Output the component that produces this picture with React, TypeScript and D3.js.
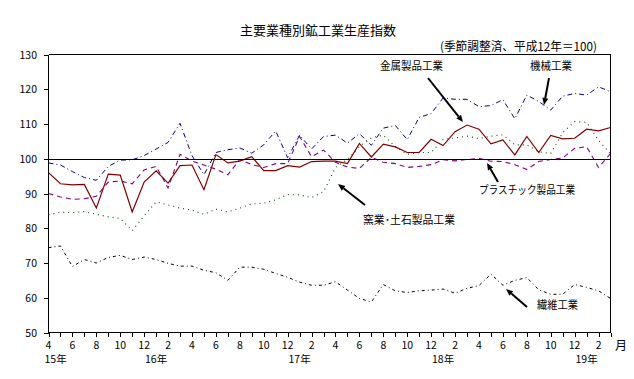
import React from "react";
import * as d3 from "d3";

const monthLabels = [
  "4","5","6","7","8","9","10","11","12","1","2","3",
  "4","5","6","7","8","9","10","11","12","1","2","3",
  "4","5","6","7","8","9","10","11","12","1","2","3",
  "4","5","6","7","8","9","10","11","12","1","2","3",
];
const yearLabels = ["15年", "16年", "17年", "18年", "19年"];
const yearIndex = [0, 9, 21, 33, 45];
const yTicks = [50, 60, 70, 80, 90, 100, 110, 120, 130];

const machinery = [98.8, 98.2, 96.3, 94.6, 93.8, 97.8, 99.6, 99.7, 100.9, 102.8, 104.7, 110.2, 100.9, 95.4, 101.8, 102.6, 103.1, 101.6, 104.0, 108.0, 100.3, 106.8, 102.8, 106.4, 106.8, 104.5, 107.2, 103.9, 108.8, 109.6, 105.5, 111.9, 113.0, 117.5, 117.1, 117.1, 115.0, 115.3, 117.0, 111.5, 118.3, 116.5, 114.0, 118.0, 118.8, 118.3, 120.7, 119.3];
const metal = [96.0, 92.8, 92.5, 92.6, 85.8, 95.6, 95.3, 84.7, 93.3, 96.5, 93.0, 98.0, 98.2, 91.1, 101.2, 98.8, 99.3, 100.6, 96.6, 96.6, 98.0, 97.6, 99.2, 99.3, 99.3, 98.6, 104.4, 100.5, 104.2, 103.4, 101.8, 101.8, 105.6, 103.8, 107.8, 109.7, 108.5, 104.3, 105.4, 101.1, 106.4, 101.8, 106.7, 105.7, 105.9, 108.5, 108.0, 109.0];
const plastics = [90.0, 89.0, 88.3, 88.5, 89.2, 93.3, 93.6, 92.8, 96.8, 97.8, 91.6, 101.3, 99.3, 98.2, 97.0, 95.4, 99.8, 98.3, 97.5, 98.6, 98.6, 106.4, 100.6, 102.5, 99.0, 97.6, 97.2, 100.4, 99.0, 98.6, 97.5, 97.8, 98.3, 99.7, 99.4, 99.8, 100.1, 99.3, 99.2, 98.3, 96.9, 99.2, 99.8, 100.2, 103.0, 103.5, 97.5, 101.5];
const ceramics = [83.9, 84.6, 84.5, 84.8, 84.0, 83.3, 82.8, 79.3, 83.6, 87.6, 86.7, 85.8, 85.2, 84.0, 85.5, 84.7, 85.8, 87.0, 87.2, 88.2, 89.7, 89.6, 88.8, 90.5, 97.5, 99.8, 103.5, 106.0, 106.8, 103.5, 101.3, 101.8, 101.8, 105.5, 106.0, 106.5, 105.8, 106.5, 106.9, 104.0, 104.0, 102.0, 101.5, 107.5, 110.7, 110.5, 105.3, 101.5];
const textiles = [74.4, 74.9, 69.0, 71.0, 70.0, 71.6, 72.2, 71.0, 71.7, 71.0, 69.9, 69.1, 69.1, 67.9, 67.2, 65.0, 68.8, 68.8, 68.2, 67.0, 65.9, 64.5, 63.6, 63.6, 64.6, 62.2, 59.8, 58.8, 63.8, 62.0, 61.5, 62.0, 62.2, 62.5, 61.3, 62.7, 63.5, 66.8, 63.6, 65.0, 65.8, 62.3, 61.0, 61.0, 63.8, 63.0, 62.0, 59.8];

const series = [
  { name: "textiles", values: textiles, color: "#000000", dash: "3,3,1,3", width: 1 },
  { name: "ceramics", values: ceramics, color: "#004d00", dash: "1,4", width: 1.1 },
  { name: "plastics", values: plastics, color: "#800080", dash: "5,4", width: 1.1 },
  { name: "machinery", values: machinery, color: "#000080", dash: "5,3,1,3", width: 1 },
  { name: "metal", values: metal, color: "#800000", dash: "", width: 1.2 },
];

const FONT = "'Noto Sans CJK JP', 'Noto Sans', sans-serif";

function Arrow({ x1, y1, x2, y2 }: { x1: number; y1: number; x2: number; y2: number }) {
  const dx = x2 - x1, dy = y2 - y1;
  const len = Math.sqrt(dx * dx + dy * dy);
  const ux = dx / len, uy = dy / len;
  const hl = 7, hw = 3;
  const bx = x2 - ux * hl, by = y2 - uy * hl;
  const pts = [
    [x2, y2],
    [bx - uy * hw, by + ux * hw],
    [bx + uy * hw, by - ux * hw],
  ];
  return (
    <g>
      <line x1={x1} y1={y1} x2={bx} y2={by} stroke="#000" strokeWidth={2} />
      <polygon points={pts.map((p) => p.join(",")).join(" ")} fill="#000" />
    </g>
  );
}

export default function App() {
  const left = 48.5, right = 610.5, top = 54.5, bottom = 332.5;
  const x = d3.scaleLinear().domain([0, monthLabels.length - 1]).range([left, right]);
  const y = d3.scaleLinear().domain([50, 130]).range([bottom, top]);
  const line = d3
    .line<number>()
    .x((_, i) => x(i))
    .y((d) => y(d));

  return (
    <svg
      width={634}
      height={379}
      style={{ position: "absolute", left: 0, top: 0, background: "#fff" }}
      fontFamily={FONT}
    >
      <rect x={0} y={0} width={634} height={379} fill="#fff" />
      {series.map((s) => (
        <path
          key={s.name}
          d={line(s.values) || ""}
          fill="none"
          stroke={s.color}
          strokeWidth={s.width}
          strokeDasharray={s.dash || undefined}
        />
      ))}
      <line x1={left} x2={right} y1={Math.round(y(100)) + 0.5} y2={Math.round(y(100)) + 0.5} stroke="#000" strokeWidth={1} shapeRendering="crispEdges" />
      <g stroke="#000" strokeWidth={1} shapeRendering="crispEdges" fill="none">
        <line x1={left} x2={right} y1={top} y2={top} />
        <line x1={right} x2={right} y1={top} y2={bottom} />
        <line x1={left} x2={left} y1={top} y2={bottom} />
        <line x1={left} x2={right} y1={bottom} y2={bottom} />
        {yTicks.map((t) => (
          <line key={t} x1={left - 5} x2={left} y1={Math.round(y(t)) + 0.5} y2={Math.round(y(t)) + 0.5} />
        ))}
        {monthLabels.map((_, i) => (
          <line key={i} x1={Math.round(x(i)) + 0.5} x2={Math.round(x(i)) + 0.5} y1={bottom} y2={bottom + 4} />
        ))}
      </g>
      {yTicks.map((t) => (
        <text key={t} x={37} y={y(t) + 4} textAnchor="end" fontSize={10.5} fill="#000">
          {t}
        </text>
      ))}
      {monthLabels.map((m, i) =>
        i % 2 === 0 ? (
          <text key={i} x={x(i)} y={349} textAnchor="middle" fontSize={10.5} fill="#000">
            {m}
          </text>
        ) : null
      )}
      <text x={621} y={350} textAnchor="middle" fontSize={12} fill="#000">月</text>
      {yearLabels.map((lab, k) => (
        <text
          key={lab}
          x={k === 0 ? x(yearIndex[k]) - 4 : x(yearIndex[k])}
          y={363}
          textAnchor={k === 0 ? "start" : "middle"}
          fontSize={10.5}
          fill="#000"
        >
          {lab}
        </text>
      ))}
      <text x={318} y={35} textAnchor="middle" fontSize={13} fill="#000">主要業種別鉱工業生産指数</text>
      <text x={440} y={51} fontSize={12} fill="#000" textLength={157} lengthAdjust="spacingAndGlyphs">(季節調整済、平成12年＝100)</text>

      <text x={380} y={70} fontSize={11} textLength={63} lengthAdjust="spacingAndGlyphs">金属製品工業</text>
      <text x={530} y={70} fontSize={11} textLength={42} lengthAdjust="spacingAndGlyphs">機械工業</text>
      <text x={479} y={194} fontSize={11} textLength={96} lengthAdjust="spacingAndGlyphs">プラスチック製品工業</text>
      <text x={363} y={224} fontSize={11} textLength={92} lengthAdjust="spacingAndGlyphs">窯業･土石製品工業</text>
      <text x={537} y={309} fontSize={11} textLength={41} lengthAdjust="spacingAndGlyphs">繊維工業</text>

      <Arrow x1={428} y1={78} x2={463} y2={122} />
      <Arrow x1={549} y1={78} x2={544} y2={105} />
      <Arrow x1={498} y1={182} x2={487} y2={163} />
      <Arrow x1={365} y1={205} x2={338} y2={184} />
      <Arrow x1={527} y1={307} x2={506} y2={289} />
    </svg>
  );
}
